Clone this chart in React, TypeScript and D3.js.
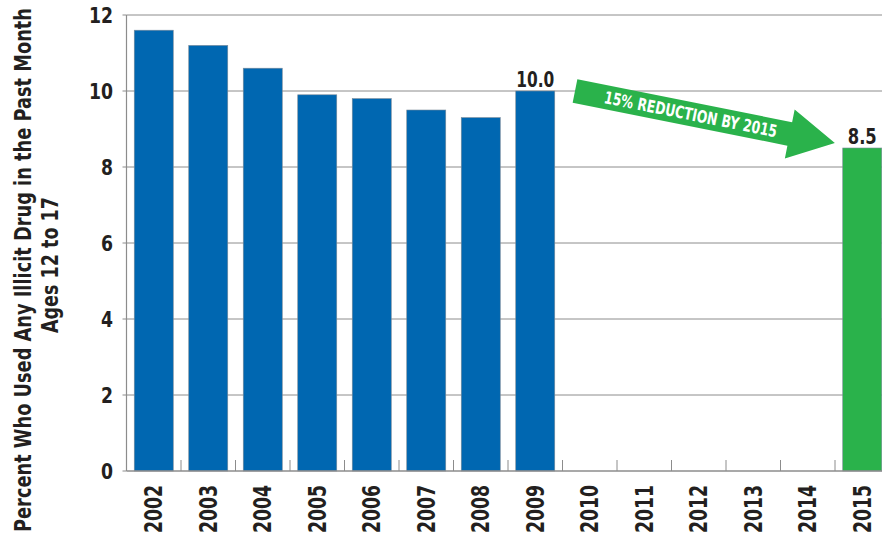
import React from "react";
import * as d3 from "d3";

const years = ["2002","2003","2004","2005","2006","2007","2008","2009","2010","2011","2012","2013","2014","2015"];
const values: (number | null)[] = [11.6, 11.2, 10.6, 9.9, 9.8, 9.5, 9.3, 10.0, null, null, null, null, null, 8.5];
const barColors = ["#0067B1","#0067B1","#0067B1","#0067B1","#0067B1","#0067B1","#0067B1","#0067B1","","","","","","#2AB24B"];
const valueLabels: Record<string, string> = { "2009": "10.0", "2015": "8.5" };
const yTicks = [0, 2, 4, 6, 8, 10, 12];
const arrowText = "15% REDUCTION BY 2015";
const titleLine1 = "Percent Who Used Any Illicit Drug in the Past Month";
const titleLine2 = "Ages 12 to 17";

const W = 882, H = 538;
const FONT = "'DejaVu Sans Condensed', 'Liberation Sans Narrow', sans-serif";
const TXT = "#231F20";

function T(props: any) {
  const { len, children, ...rest } = props;
  return (
    <text fontFamily={FONT} fontWeight="bold" textLength={len} lengthAdjust="spacingAndGlyphs" {...rest}>{children}</text>
  );
}

export default function App() {
  const x = d3.scaleBand<string>().domain(years).range([126.5, 889.5]).paddingInner(0.284).paddingOuter(0.142);
  const y = d3.scaleLinear().domain([0, 12]).range([471, 15]);
  const step = x.step();
  const bw = x.bandwidth();
  const left = 126.5;
  const bottom = y(0);

  const ax0 = 575, ay0 = 91, angle = 11.3;
  const L = 265, headLen = 46, shaftHalf = 12, headHalf = 25;
  const arrowPts = [
    [0, -shaftHalf], [L - headLen, -shaftHalf], [L - headLen, -headHalf], [L, 0],
    [L - headLen, headHalf], [L - headLen, shaftHalf], [0, shaftHalf],
  ];

  return (
    <svg width={W} height={H} style={{ position: "absolute", left: 0, top: 0, background: "#fff" }}>
      {yTicks.filter(t => t > 0).map(t => (
        <line key={t} x1={left} x2={W} y1={y(t)} y2={y(t)} stroke="#8C8C8C" strokeWidth={1} />
      ))}
      {yTicks.map(t => (
        <g key={t}>
          <line x1={left - 4} x2={left} y1={y(t)} y2={y(t)} stroke="#8C8C8C" strokeWidth={1} />
          <T x={113} y={y(t)} dy="0.36em" textAnchor="end" fontSize={22} fill={TXT} len={String(t).length * 12}>{t}</T>
        </g>
      ))}
      {years.map((yr, i) => values[i] == null ? null : (
        <rect key={yr} x={x(yr)} y={y(values[i] as number)} width={bw} height={bottom - y(values[i] as number)}
          fill={barColors[i]} stroke="#7A8A99" strokeWidth={0.6} />
      ))}
      <line x1={left} x2={left} y1={y(12)} y2={bottom} stroke="#8C8C8C" strokeWidth={1.2} />
      <line x1={left} x2={W} y1={bottom} y2={bottom} stroke="#8C8C8C" strokeWidth={1.5} />
      {years.slice(0, -1).map(yr => {
        const tx = (x(yr) as number) + bw + (step - bw) / 2;
        return <line key={yr} x1={tx} x2={tx} y1={bottom} y2={bottom - 11} stroke="#8C8C8C" strokeWidth={1} />;
      })}
      {years.map(yr => {
        const cx = (x(yr) as number) + bw / 2;
        return (
          <T key={yr} transform={`translate(${cx},485) rotate(-90)`} dy="0.36em" textAnchor="end"
            fontSize={24} fill={TXT} len={48}>{yr}</T>
        );
      })}
      {years.map((yr, i) => valueLabels[yr] ? (
        <T key={yr} x={(x(yr) as number) + bw / 2} y={y(values[i] as number) - 4} textAnchor="middle"
          fontSize={22} fill={TXT} len={valueLabels[yr].length === 4 ? 38 : 29}>{valueLabels[yr]}</T>
      ) : null)}
      <g transform={`translate(${ax0},${ay0}) rotate(${angle})`}>
        <polygon points={arrowPts.map(p => p.join(",")).join(" ")} fill="#2AB24B" />
        <T x={118} y={0} dy="0.36em" textAnchor="middle" fontSize={17} fill="#fff" len={176}>{arrowText}</T>
      </g>
      <g transform="translate(23,270) rotate(-90) scale(0.86,1)">
        <text textAnchor="middle" dy="0.36em" fontFamily={FONT} fontWeight="bold" fontSize={23} fill={TXT}>{titleLine1}</text>
      </g>
      <g transform="translate(50,265) rotate(-90)">
        <T textAnchor="middle" dy="0.36em" fontSize={23} fill={TXT} len={136}>{titleLine2}</T>
      </g>
    </svg>
  );
}
